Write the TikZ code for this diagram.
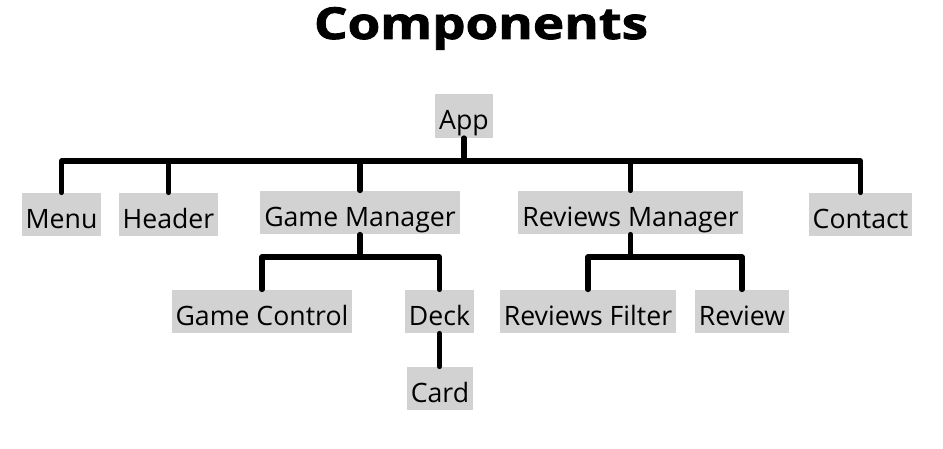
\documentclass[tikz,border=0pt]{standalone}
\usepackage{fontspec}
\setmainfont{Open Sans}
\newfontfamily\titlefont[BoldFeatures={FakeStretch=1.2,FakeBold=2}]{Open Sans}
\begin{document}
\begin{tikzpicture}[x=0.75pt, y=-0.75pt,
    comp/.style={fill=gray!35, inner xsep=3pt, inner ysep=0pt, text height=26.5pt, text depth=6pt, font=\fontsize{20}{24}\selectfont},
    link/.style={line width=3.8pt, line cap=round, line join=round}]
    \useasboundingbox (0,0) rectangle (943,449);

    % Title
    \node[font=\fontsize{33}{38}\titlefont\bfseries, anchor=base] (title) at (481,39) {Components};

    % Root
    \node[comp] (app) at (464,116) {App};

    % First level (bus at y = 161)
    \coordinate (bus) at (0,161);
    \foreach \name/\x/\y/\label in {menu/61.5/214.5/Menu, header/168.5/214.5/Header, gm/360/212.5/Game Manager, rm/630.5/212.5/Reviews Manager, contact/860.5/214.5/Contact} {
        \node[comp] (\name) at (\x,\y) {\label};
    }

    % Second level
    \node[comp] (gc) at (262,311.5) {Game Control};
    \node[comp] (deck) at (439.5,311.5) {Deck};
    \node[comp] (card) at (440,388.5) {Card};
    \node[comp] (rf) at (588,311.5) {Reviews Filter};
    \node[comp] (review) at (742,311.5) {Review};

    % Links from App
    \draw[link] (app.south) -- (app.south |- bus);
    \draw[link] (menu.north) |- (bus -| contact.north) -- (contact.north);
    \foreach \name in {header, gm, rm} {
        \draw[link] (\name.north) -- (\name.north |- bus);
    }

    % Links under Game Manager (bus at y = 257)
    \coordinate (gmbus) at (0,257);
    \draw[link] (gm.south) -- (gm.south |- gmbus);
    \draw[link] (gc.north) |- (gmbus -| deck.north) -- (deck.north);
    \draw[link] (deck.south) -- (deck.south |- card.north);

    % Links under Reviews Manager
    \draw[link] (rm.south) -- (rm.south |- gmbus);
    \draw[link] (rf.north) |- (gmbus -| review.north) -- (review.north);
\end{tikzpicture}
\end{document}
